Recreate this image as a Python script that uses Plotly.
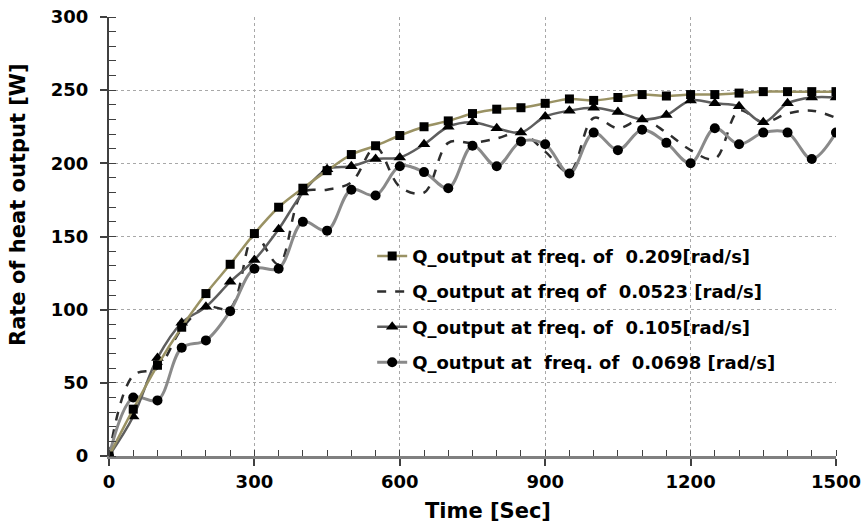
import plotly.graph_objects as go

# ---- data ----
time_s = [0, 50, 100, 150, 200, 250, 300, 350, 400, 450, 500, 550, 600, 650, 700, 750,
          800, 850, 900, 950, 1000, 1050, 1100, 1150, 1200, 1250, 1300, 1350, 1400, 1450, 1500]

q_0209 = [0, 32, 62, 88, 111, 131, 152, 170, 183, 195, 206, 212, 219, 225, 229, 234,
          237, 238, 241, 244, 243, 245, 247, 246, 247, 247, 248, 249, 249, 249, 249]
q_0523 = [0, 55, 60, 87, 102, 101, 151, 131, 180, 182, 187, 211, 184, 180, 214, 214,
          217, 221, 208, 194, 231, 224, 230, 221, 209, 203, 236, 228, 234, 236, 231]
q_0105 = [0, 27, 67, 91, 102, 119, 134, 155, 180, 196, 198, 203, 204, 213, 225, 228,
          224, 221, 232, 236, 238, 235, 230, 233, 243, 241, 239, 228, 241, 245, 245]
q_0698 = [0, 40, 38, 74, 79, 99, 128, 128, 160, 154, 182, 178, 198, 194, 183, 212,
          198, 215, 213, 193, 221, 209, 223, 214, 200, 224, 213, 221, 221, 203, 221]

names = ["Q_output at freq. of \u00a00.209[rad/s]",
         "Q_output at freq of \u00a00.0523 [rad/s]",
         "Q_output at freq. of \u00a00.105[rad/s]",
         "Q_output at \u00a0freq. of \u00a00.0698 [rad/s]"]

x_ticks = [0, 300, 600, 900, 1200, 1500]
y_ticks = [0, 50, 100, 150, 200, 250, 300]

FONT = "DejaVu Sans"

fig = go.Figure()

fig.add_trace(go.Scatter(
    x=time_s, y=q_0523, name=names[1], mode="lines", legendgroup="b", legendrank=2,
    line=dict(color="#2e2e2e", width=2.5, dash="dash", shape="spline", smoothing=1)))
fig.add_trace(go.Scatter(
    x=time_s, y=q_0698, name=names[3], mode="lines+markers", legendgroup="d", legendrank=4,
    line=dict(color="#8a8a8a", width=3, shape="spline", smoothing=1),
    marker=dict(symbol="circle", size=10, color="black")))
fig.add_trace(go.Scatter(
    x=time_s, y=q_0105, name=names[2], mode="lines+markers", legendgroup="c", legendrank=3,
    line=dict(color="#5e5e5e", width=2.5, shape="spline", smoothing=1),
    marker=dict(symbol="triangle-up", size=11, color="black")))
fig.add_trace(go.Scatter(
    x=time_s, y=q_0209, name=names[0], mode="lines+markers", legendgroup="a", legendrank=1,
    line=dict(color="#9a9264", width=2.5, shape="spline", smoothing=1),
    marker=dict(symbol="square", size=9, color="black")))

fig.update_layout(
    width=867, height=526,
    margin=dict(l=109, r=31, t=17, b=70, autoexpand=False),
    paper_bgcolor="white", plot_bgcolor="white",
    font=dict(family=FONT, color="black"),
    showlegend=True,
    legend=dict(
        x=0.362, xanchor="left", y=0.497, yanchor="top",
        bgcolor="rgba(0,0,0,0)", borderwidth=0,
        font=dict(family=FONT, size=18, color="black", weight="bold"),
        traceorder="grouped", tracegroupgap=9, itemwidth=30,
    ),
    annotations=[
        dict(text="<b>Rate of heat output [W]</b>", xref="paper", yref="paper",
             x=-0.125, y=0.572, xanchor="center", yanchor="middle", textangle=-90,
             showarrow=False, font=dict(family=FONT, size=21, color="black")),
        dict(text="<b>Time [Sec]</b>", xref="paper", yref="paper",
             x=0.521, y=-0.125, xanchor="center", yanchor="middle",
             showarrow=False, font=dict(family=FONT, size=21, color="black")),
    ],
)

fig.update_xaxes(
    range=[0, 1500], tickvals=x_ticks, ticktext=[str(v) for v in x_ticks],
    showgrid=True, gridcolor="#a8a8a8", griddash="dot", gridwidth=1,
    showline=True, linecolor="#808080", linewidth=3,
    ticks="outside", ticklen=7, tickcolor="#404040", tickwidth=1.5,
    minor=dict(dtick=50, ticks="inside", ticklen=6, tickcolor="#404040", tickwidth=1, showgrid=False),
    tickfont=dict(family=FONT, size=18, color="black", weight="bold"),
    zeroline=False, mirror=False, automargin=False,
)
fig.update_yaxes(
    range=[0, 300], tickvals=y_ticks, ticktext=[str(v) for v in y_ticks],
    showgrid=True, gridcolor="#a8a8a8", griddash="dot", gridwidth=1,
    showline=True, linecolor="#404040", linewidth=2,
    ticks="outside", ticklen=7, tickcolor="#404040", tickwidth=1.5,
    minor=dict(dtick=10, ticks="inside", ticklen=7, tickcolor="#404040", tickwidth=1, showgrid=False),
    tickfont=dict(family=FONT, size=18, color="black", weight="bold"),
    ticklabelstandoff=8,
    zeroline=False, automargin=False,
)

fig.write_html("out.html", config={"displayModeBar": False},
               post_script="document.body.style.margin='0';document.body.style.overflow='hidden';")
